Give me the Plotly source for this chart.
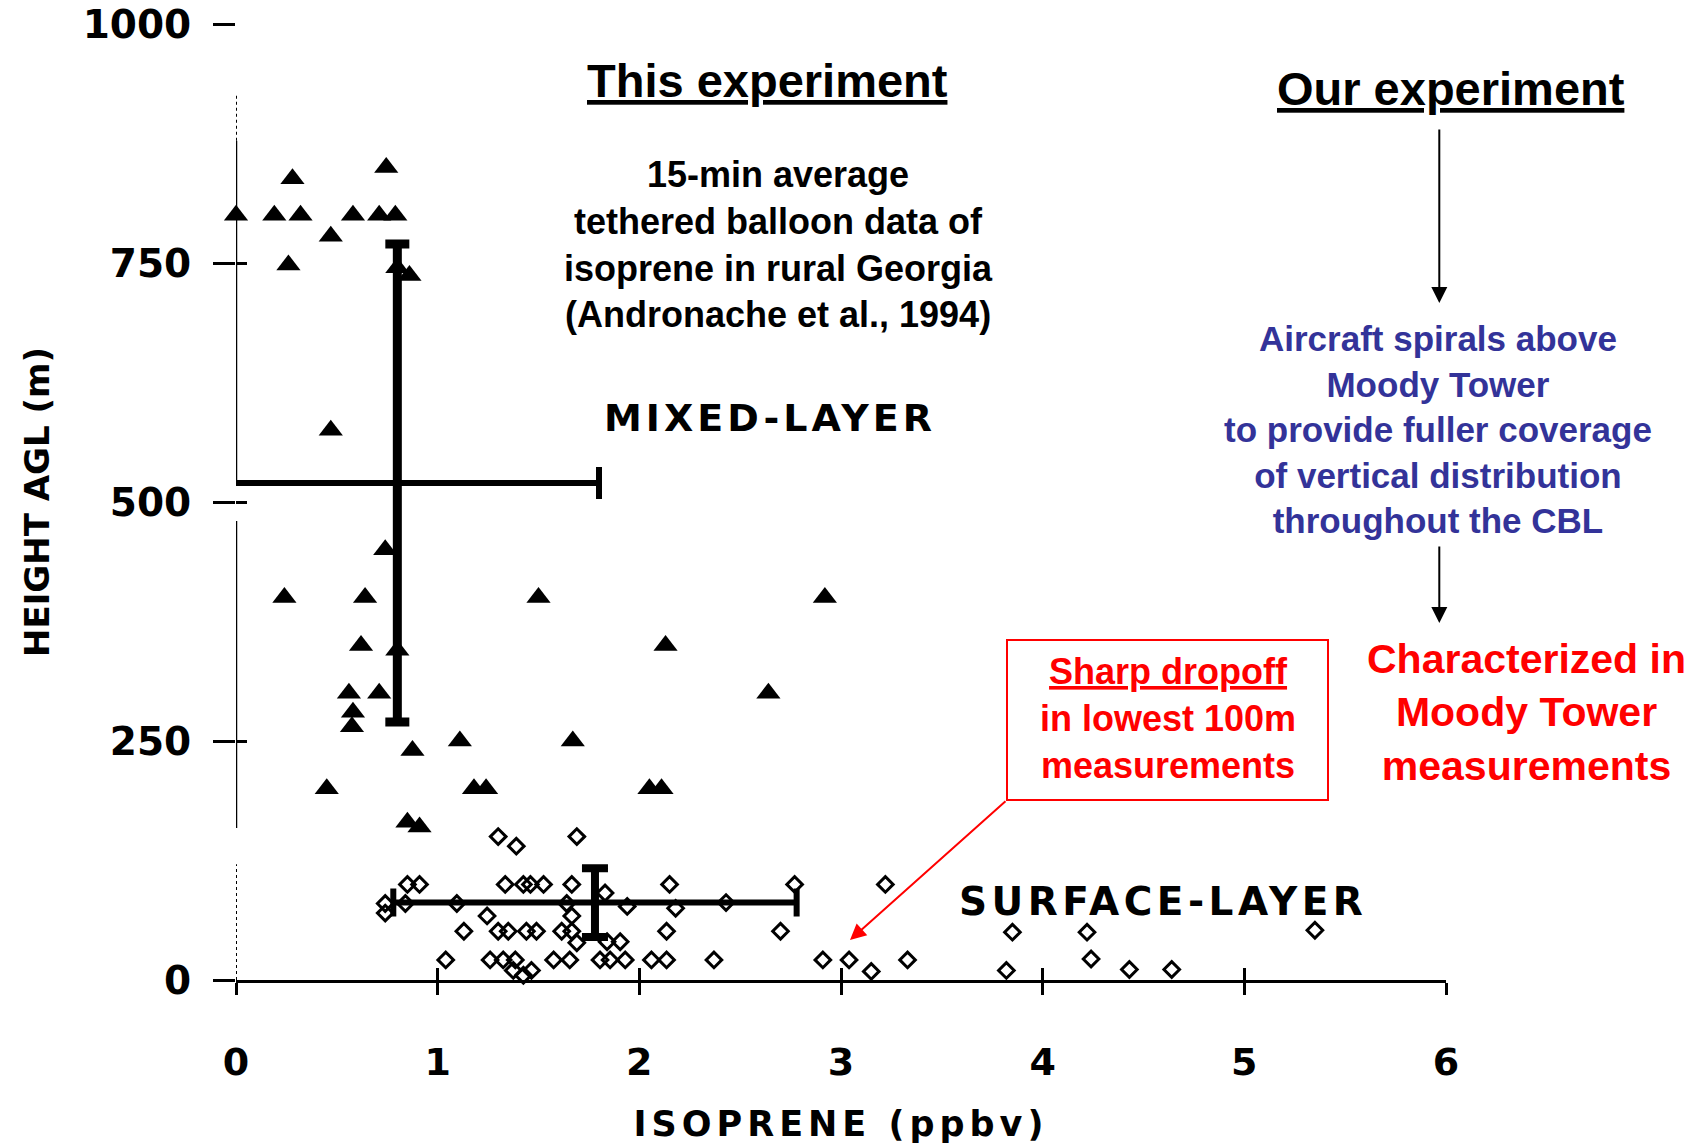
import plotly.graph_objects as go

# ---------------- data ----------------
mixed_isoprene = [0.00, 0.19, 0.32, 0.28, 0.47, 0.58, 0.71, 0.79, 0.745, 0.26, 0.80, 0.86,
                  0.47, 0.74, 0.24, 0.64, 1.50, 2.92, 0.62, 0.80, 2.13, 0.56, 0.71, 2.64,
                  0.58, 0.575, 1.11, 1.67, 0.875, 0.45, 1.18, 1.24, 2.05, 2.11, 0.85, 0.91]
mixed_height = [800, 800, 800, 838, 778, 800, 800, 800, 850, 748, 745, 737,
                575, 450, 400, 400, 400, 400, 350, 345, 350, 300, 300, 300,
                280, 265, 250, 250, 240, 200, 200, 200, 200, 200, 165, 160]

surface_isoprene = [1.30, 1.39, 1.69,
                    0.85, 0.91, 1.335, 1.425, 1.46, 1.525, 1.665, 2.15, 2.77, 3.22,
                    0.74, 0.84, 1.095, 1.64, 1.83, 1.94, 2.18, 2.43, 0.74,
                    1.245, 1.665,
                    1.13, 1.30, 1.35, 1.44, 1.49, 1.615, 1.665, 2.135, 2.70, 3.85, 4.22, 5.35,
                    1.69, 1.84, 1.905,
                    1.04, 1.26, 1.325, 1.385, 1.575, 1.655, 1.805, 1.855, 1.93, 2.06, 2.135,
                    2.37, 2.91, 3.04, 3.33, 4.24,
                    1.375, 1.465, 1.425, 3.15, 3.82, 4.43, 4.64]
surface_height = [150, 140, 150,
                  100, 100, 100, 100, 100, 100, 100, 100, 100, 100,
                  80, 80, 80, 80, 91, 77, 75, 81, 70,
                  67, 67,
                  51, 51, 51, 51, 51, 51, 51, 51, 51, 50, 50, 52,
                  39, 40, 40,
                  21, 21, 21, 21, 21, 21, 21, 21, 21, 21, 21,
                  21, 21, 21, 21, 22,
                  10, 10, 5, 9, 10, 11, 11]

layer_mean_isoprene = [0.80, 1.78]
layer_mean_height = [520, 81]
layer_sd_isoprene = [1.0, 1.0]
layer_sd_height = [250, 36]

x_ticks = [0, 1, 2, 3, 4, 5, 6]
y_ticks = [0, 250, 500, 750, 1000]

# ---------------- page geometry ----------------
W, H = 1695, 1144
ML, MR, MT, MB = 236, 249, 24, 164
PW, PH = W - ML - MR, H - MT - MB


def px(x):
    return (x - ML) / PW


def py(y):
    return (H - MB - y) / PH


OLD = "DejaVu Sans, Verdana, sans-serif"
TXT = "Liberation Sans, Arial, sans-serif"
BLUE = "#333399"
RED = "#ff0000"

fig = go.Figure()

# mixed layer mean +/- sd
fig.add_trace(go.Scatter(
    x=layer_mean_isoprene[:1], y=layer_mean_height[:1], mode="markers",
    marker=dict(size=0.1, color="black"),
    error_x=dict(type="data", array=layer_sd_isoprene[:1], color="black", thickness=6, width=16),
    error_y=dict(type="data", array=layer_sd_height[:1], color="black", thickness=9, width=12),
    showlegend=False, hoverinfo="skip"))
# surface layer mean +/- sd
fig.add_trace(go.Scatter(
    x=layer_mean_isoprene[1:], y=layer_mean_height[1:], mode="markers",
    marker=dict(size=0.1, color="black"),
    error_x=dict(type="data", array=layer_sd_isoprene[1:], color="black", thickness=6, width=14),
    error_y=dict(type="data", array=layer_sd_height[1:], color="black", thickness=8, width=13),
    showlegend=False, hoverinfo="skip"))

fig.add_trace(go.Scatter(
    x=mixed_isoprene, y=mixed_height, mode="markers", name="Mixed layer",
    marker=dict(symbol="triangle-up", size=21, color="black"),
    cliponaxis=False, showlegend=False))
fig.add_trace(go.Scatter(
    x=surface_isoprene, y=surface_height, mode="markers", name="Surface layer",
    marker=dict(symbol="diamond-open", size=12, color="black", line=dict(width=3, color="black")),
    cliponaxis=False, showlegend=False))

# helper trace for overlay axes (inner half of crossing ticks)
fig.add_trace(go.Scatter(x=[0], y=[0], xaxis="x2", yaxis="y2", mode="markers",
                         marker=dict(opacity=0), showlegend=False, hoverinfo="skip"))

# broken y-axis line
shapes = []
for (a, b, dash, w) in [(0, 121, "dot", 2), (159, 480, "solid", 2.5),
                        (522, 878, "solid", 2.5), (878, 927, "dot", 2)]:
    shapes.append(dict(type="line", xref="x", yref="y", x0=0, x1=0, y0=a, y1=b,
                       line=dict(color="black", width=w, dash=dash), layer="below"))
# red callout box
shapes.append(dict(type="rect", xref="paper", yref="paper",
                   x0=px(1007), x1=px(1328), y0=py(800), y1=py(640),
                   line=dict(color=RED, width=2)))

ann = []


def text(t, x, y, size, color="black", family=TXT, weight="bold"):
    ann.append(dict(text=t, xref="paper", yref="paper", x=px(x), y=py(y),
                    xanchor="center", yanchor="middle", showarrow=False, align="center",
                    font=dict(family=family, size=size, color=color, weight=weight)))


text("<u>This experiment</u>", 767, 80, 47)
text("<u>Our experiment</u>", 1451, 88.5, 47)
text("15-min average<br>tethered balloon data of<br>isoprene in rural Georgia<br>(Andronache et al., 1994)",
     778, 245, 36)
text("Aircraft spirals above<br>Moody Tower<br>to provide fuller coverage<br>of vertical distribution<br>throughout the CBL",
     1437.5, 429, 35, BLUE)
text("Characterized in<br>Moody Tower<br>measurements", 1526, 712, 41, RED)
text("<u>Sharp dropoff</u><br>in lowest 100m<br>measurements", 1167.5, 718, 36, RED)
text('<span style="letter-spacing:4px">MIXED-LAYER</span>', 770, 418, 38, family=OLD)
text('<span style="letter-spacing:4.5px">SURFACE-LAYER</span>', 1163, 901, 39, family=OLD)


def arrow(x_tip, y_tip, x_tail, y_tail, color, width, size):
    ann.append(dict(text="", xref="paper", yref="paper", x=px(x_tip), y=py(y_tip),
                    ax=x_tail - x_tip, ay=y_tail - y_tip, showarrow=True,
                    arrowhead=2, arrowsize=size, arrowwidth=width, arrowcolor=color, standoff=0))


arrow(1439.3, 303, 1439.3, 128, "black", 2, 1.6)
arrow(1439.3, 623, 1439.3, 545, "black", 2, 1.6)
arrow(850, 940, 1007, 800, RED, 2, 1.6)

tickfont = dict(family=OLD, size=38, color="black", weight="bold")
fig.update_layout(
    width=W, height=H, autosize=False,
    margin=dict(l=ML, r=MR, t=MT, b=MB, pad=0, autoexpand=False),
    paper_bgcolor="white", plot_bgcolor="white",
    showlegend=False,
    xaxis=dict(range=[0, 6], tickvals=x_ticks, ticktext=[str(v) for v in x_ticks],
               ticks="outside", ticklen=12, tickwidth=2.5, tickcolor="black",
               showline=True, linewidth=2.5, linecolor="black", mirror=False, automargin=False,
               showgrid=False, zeroline=False, tickfont=tickfont, ticklabelstandoff=35,
               title=dict(text='<span style="letter-spacing:5px">ISOPRENE (ppbv)</span>',
                          font=dict(family=OLD, size=35, color="black", weight="bold"), standoff=34)),
    yaxis=dict(range=[0, 1000], tickvals=y_ticks, ticktext=[str(v) for v in y_ticks],
               ticks="outside", ticklen=22, tickwidth=2.5, tickcolor="black", automargin=False,
               showline=False, showgrid=False, zeroline=False,
               tickfont=dict(family=OLD, size=39, color="black", weight="bold"), ticklabelstandoff=14,
               title=dict(text="HEIGHT AGL (m)",
                          font=dict(family=OLD, size=34, color="black", weight="bold"), standoff=22)),
    xaxis2=dict(range=[0, 6], overlaying="x", anchor="y2", side="bottom", tickvals=x_ticks,
                ticks="inside", ticklen=12, tickwidth=2.5, tickcolor="black", automargin=False,
                showticklabels=False, showline=False, showgrid=False, zeroline=False),
    yaxis2=dict(range=[0, 1000], overlaying="y", anchor="x2", side="left", tickvals=y_ticks,
                ticks="inside", ticklen=11, tickwidth=2.5, tickcolor="black", automargin=False,
                showticklabels=False, showline=False, showgrid=False, zeroline=False),
    shapes=shapes, annotations=ann,
)

fig.write_html("out.html")
